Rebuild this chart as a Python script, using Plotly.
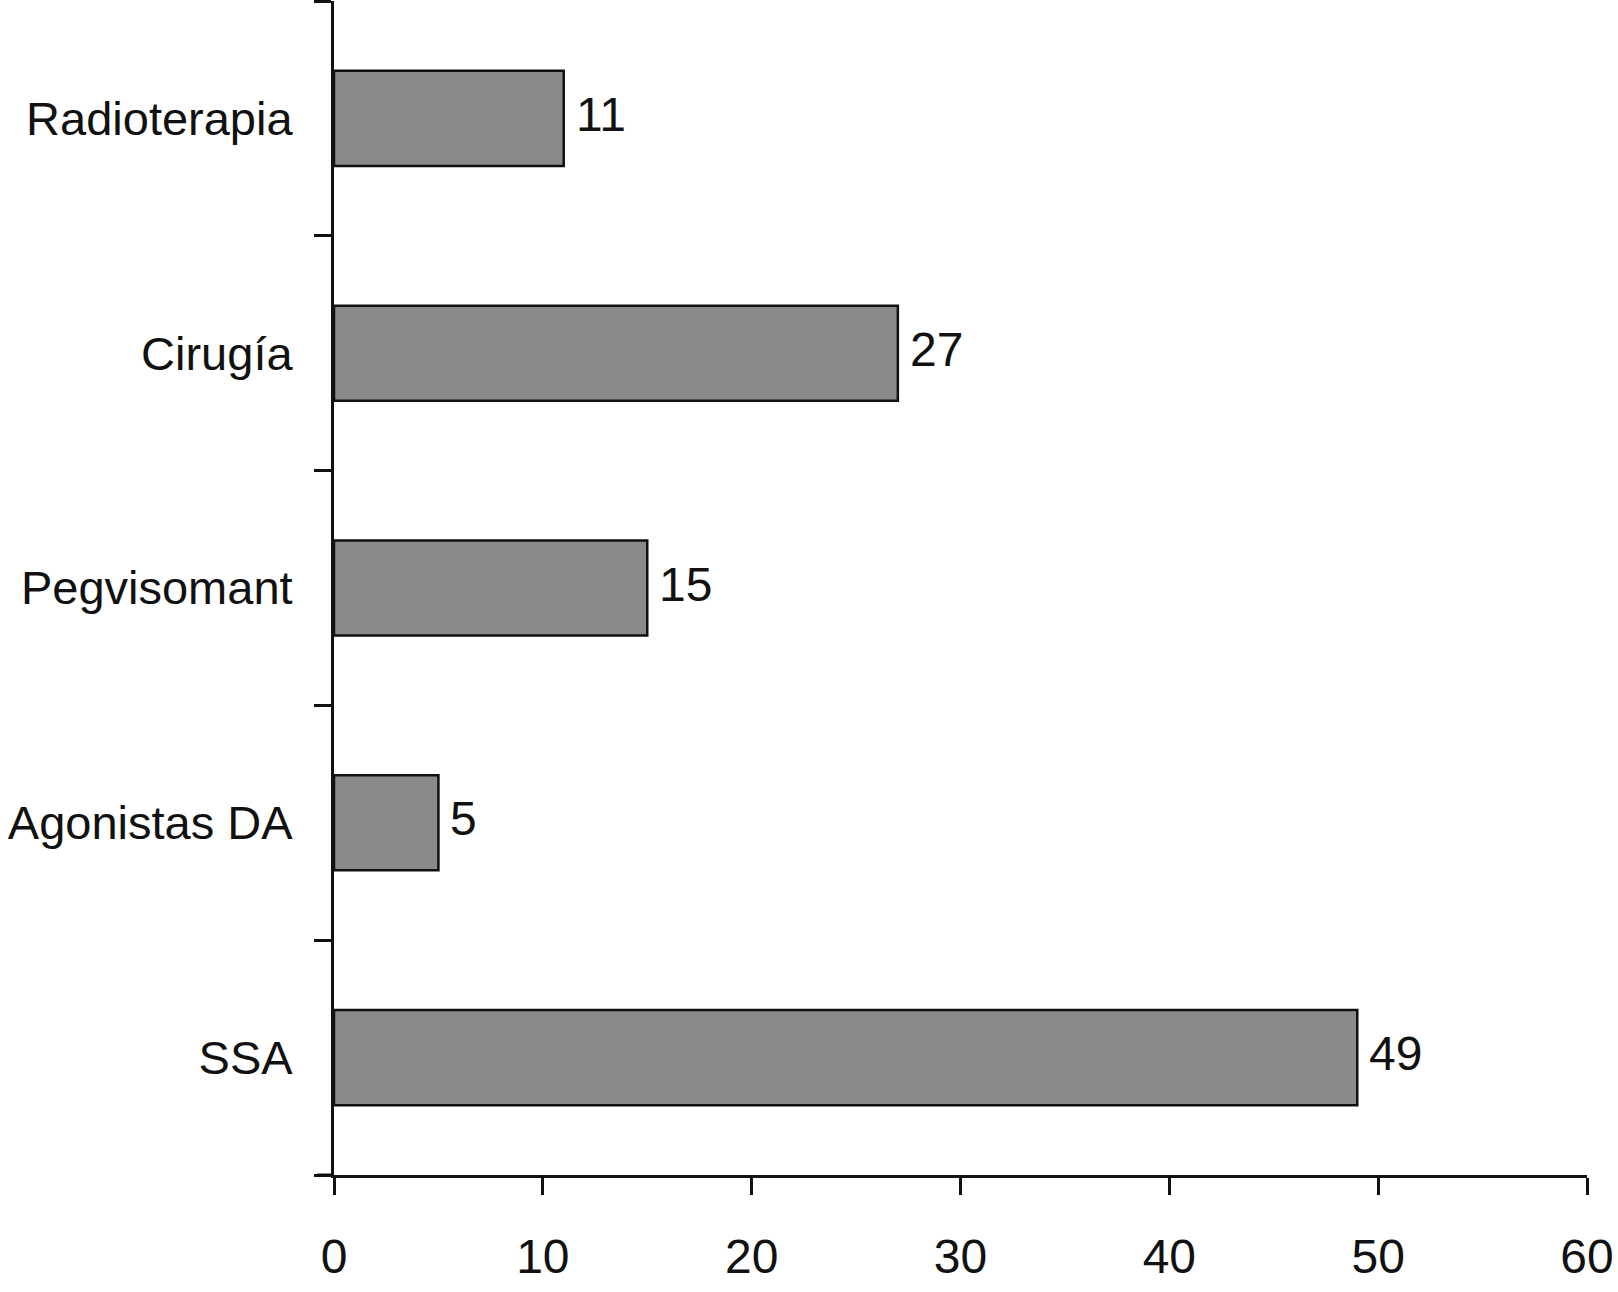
import plotly.graph_objects as go

categories = ["SSA", "Agonistas DA", "Pegvisomant", "Cirugía", "Radioterapia"]
values = [49, 5, 15, 27, 11]
x_ticks = [0, 10, 20, 30, 40, 50, 60]

FONT = "Liberation Sans, Arial, Helvetica, sans-serif"
FS = 48

fig = go.Figure()
fig.add_trace(go.Bar(
    y=categories, x=values, orientation="h", width=0.405,
    marker=dict(color="#8a8a8a", line=dict(color="#111111", width=2.5)),
    showlegend=False, hoverinfo="skip",
))

for c, v in zip(categories, values):
    fig.add_annotation(x=v, y=c, text=str(v), showarrow=False, xanchor="left",
                       yanchor="middle", xshift=10, yshift=4,
                       font=dict(family=FONT, size=FS, color="#111111"))

fig.update_layout(
    width=1618, height=1292,
    margin=dict(l=334, r=31, t=1, b=117, autoexpand=False),
    paper_bgcolor="white", plot_bgcolor="white",
    font=dict(family=FONT, size=FS, color="#111111"),
)
fig.update_xaxes(
    range=[0, 60], tickvals=x_ticks, ticktext=[str(t) for t in x_ticks],
    showgrid=False, zeroline=False, showline=True, linecolor="#111111", linewidth=3,
    ticks="outside", ticklen=17, tickwidth=3, tickcolor="#111111",
    tickfont=dict(family=FONT, size=FS, color="#111111"),
    ticklabelstandoff=20, automargin=False,
)
fig.update_yaxes(
    type="category", categoryorder="array", categoryarray=categories,
    range=[-0.5, 4.5],
    showgrid=False, zeroline=False, showline=True, linecolor="#111111", linewidth=3,
    ticks="outside", ticklen=17, tickwidth=3, tickcolor="#111111", tickson="boundaries",
    tickfont=dict(family=FONT, size=47, color="#111111"),
    ticklabelstandoff=29, automargin=False,
)
# extend x axis line slightly left of the y axis (as in reference)
fig.add_shape(type="line", xref="paper", yref="paper", x0=-0.0136, x1=0, y0=0, y1=0,
              line=dict(color="#111111", width=3))

fig.write_html("out.html", config={"displayModeBar": False},
               post_script="document.body.style.margin='0px';")
